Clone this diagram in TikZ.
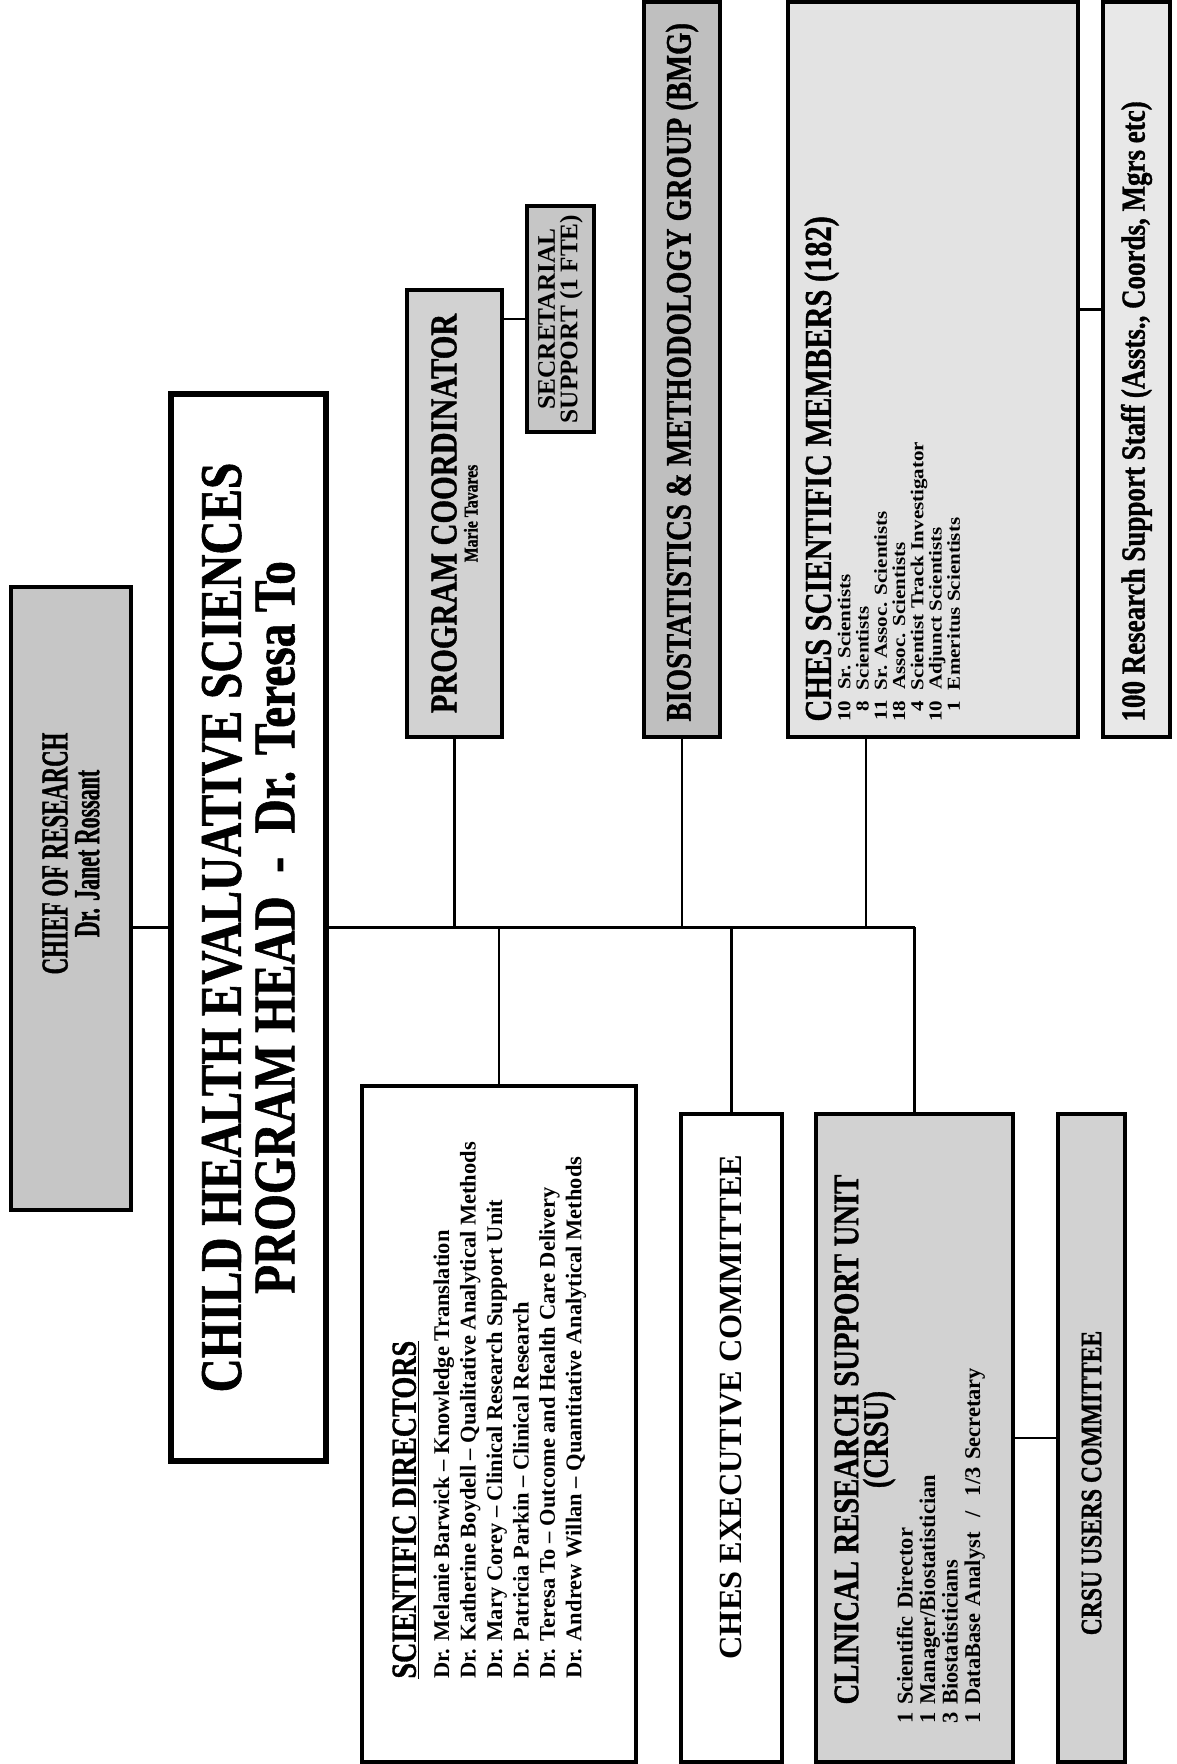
\documentclass[tikz,border=0pt]{standalone}
\usepackage{fontspec}
\setmainfont{Liberation Serif}
\newfontfamily\headfont{Liberation Serif Bold}[FakeStretch=0.8, FakeBold=1]
\newfontfamily\chieffont{Liberation Serif Bold}[FakeStretch=0.6, FakeBold=1]
\newfontfamily\listfont{Liberation Serif Bold}
\newfontfamily\widefont{Liberation Serif Bold}[FakeStretch=1.15]
\usetikzlibrary{arrows.meta,positioning,calc}

\tikzset{
  orgbox/.style={draw, line width=0.9mm, rotate=90, inner sep=0pt, align=center},
  greybox/.style={orgbox, fill=gray!35},
  inbox/.style={rotate=90, inner sep=0pt, anchor=north west},
  midtext/.style={rotate=90, inner sep=0pt, align=center}
}
\tikzset{link/.style={line width=0.6mm}}

\begin{document}
\begin{tikzpicture}[x=0.25mm, y=0.25mm]
\useasboundingbox (0,0) rectangle (1176,1764);

\node[greybox, fill=gray!45, line width=1mm, minimum width=155.75mm, minimum height=30mm] (chief) at (71,865.5) {};
\node[midtext, font=\chieffont\fontsize{27}{22.5}\selectfont] (chieftext) at ($(chief.center)+(0,45)$)
  {CHIEF OF RESEARCH\\{\fontsize{26}{22.5}\selectfont Dr. Janet Rossant}};
\node[orgbox, line width=1.3mm, minimum width=266.75mm, minimum height=38.75mm,
  font=\headfont\fontsize{42}{38}\selectfont] (head) at (248.5,836.5)
  {CHILD HEALTH EVALUATIVE SCIENCES\\PROGRAM HEAD\ \ -\ \ Dr. Teresa To};

\node[greybox, minimum width=111.75mm, minimum height=23.75mm,
  font=\headfont\fontsize{27}{15}\selectfont] (coord) at (454.5,1250.5)
  {PROGRAM COORDINATOR\\{\fontsize{14}{15}\selectfont Marie Tavares}};
\node[greybox, fill=gray!45, minimum width=56.5mm, minimum height=16.75mm,
  font=\listfont\fontsize{18}{16}\selectfont] (secr) at (560.5,1445)
  {SECRETARIAL\\SUPPORT (1 FTE)};
\node[greybox, fill=gray!50, minimum width=183.75mm, minimum height=19mm,
  font=\headfont\fontsize{25.5}{26}\selectfont] (biostat) at (682,1394.5)
  {\makebox[176mm][l]{BIOSTATISTICS \& METHODOLOGY GROUP (BMG)}};
\node[greybox, fill=gray!22, minimum width=183.75mm, minimum height=72.5mm] (members) at (933,1394.5) {};
\node[inbox, align=left, font=\widefont\fontsize{13}{13}\selectfont] (memberlist)
  at ($(members.north west)+(18,17)$)
  {{\headfont\fontsize{27}{27}\selectfont CHES SCIENTIFIC MEMBERS (182)}\\[-2pt]
   \begin{tabular}[t]{@{}r@{\ \ }l@{}}
   10 & Sr. Scientists\\
   8 & Scientists\\
   11 & Sr. Assoc. Scientists\\
   18 & Assoc. Scientists\\
   4 & Scientist Track Investigator\\
   10 & Adjunct Scientists\\
   1 & Emeritus Scientists
   \end{tabular}};
\node[greybox, fill=gray!18, minimum width=183.75mm, minimum height=16.75mm,
  font=\headfont\fontsize{24}{24}\selectfont] (support) at (1136.5,1394.5)
  {\makebox[176mm][l]{100 Research Support Staff (Assts., Coords, Mgrs etc)}};

\node[orgbox, minimum width=169mm, minimum height=68.5mm] (scidir) at (499,340) {};
\node[inbox, align=left, font=\listfont\fontsize{16}{18.8}\selectfont] (dirlist)
  at ($(scidir.north west)+(32,85)$)
  {{\headfont\fontsize{25}{25}\selectfont\underline{SCIENTIFIC DIRECTORS}}\\[5pt]
   Dr. Melanie Barwick – Knowledge Translation\\
   Dr. Katherine Boydell – Qualitative Analytical Methods\\
   Dr. Mary Corey – Clinical Research Support Unit\\
   Dr. Patricia Parkin – Clinical Research\\
   Dr. Teresa To – Outcome and Health Care Delivery\\
   Dr. Andrew Willan – Quantitative Analytical Methods};
\node[orgbox, minimum width=162mm, minimum height=25.25mm] (exec) at (731.5,326) {};
\node[midtext, font=\listfont\fontsize{23}{23}\selectfont] (exectext) at ($(exec.center)+(0,31)$)
  {CHES EXECUTIVE COMMITTEE};
\node[greybox, minimum width=162mm, minimum height=49.25mm] (crsu) at (914.5,326) {};
\node[inbox, text width=142mm, font=\listfont\fontsize{16}{16}\selectfont] (crsulist)
  at ($(crsu.north west)+(20,40)$)
  {{\centering\headfont\fontsize{25.5}{21}\selectfont CLINICAL RESEARCH SUPPORT UNIT\\(CRSU)\par}
   {\raggedright 1 Scientific Director\\1 Manager/Biostatistician\\3 Biostatisticians\\
   1 DataBase Analyst\ \ /\ \ 1/3 Secretary\par}};
\node[greybox, minimum width=162mm, minimum height=16.75mm] (users) at (1091.5,326) {};
\node[midtext, font=\headfont\fontsize{21}{21}\selectfont] (userstext) at ($(users.center)+(0,-45)$)
  {CRSU USERS COMMITTEE};

\draw[link] (head.north) -- (head.north -| chief.south);
\draw[link] (head.south) -- (head.south -| crsu.east);
\foreach \child in {scidir,exec,crsu}
  \draw[link] (\child.east) -- (\child.east |- head.south);
\foreach \child in {coord,biostat}
  \draw[link] (\child.west) -- (\child.west |- head.south);
\coordinate (memfoot) at ($(members.west)+(-67,0)$);
\draw[link] (memfoot) -- (memfoot |- head.south);
\draw[link] (secr.north) -- (secr.north -| coord.south);
\coordinate (staffjoin) at ($(support.north)+(0,60)$);
\draw[link] (staffjoin) -- (staffjoin -| members.south);
\draw[link] (users.north) -- (users.north -| crsu.south);
\end{tikzpicture}
\end{document}
